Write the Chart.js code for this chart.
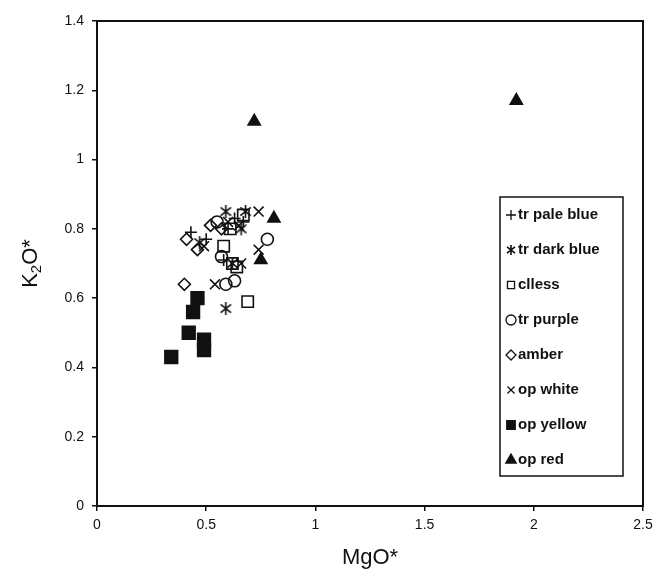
<!DOCTYPE html>
<html>
<head>
<meta charset="utf-8">
<script src="https://cdn.jsdelivr.net/npm/chart.js@4/dist/chart.umd.min.js"></script>
<style>
  html, body { margin: 0; padding: 0; background: #fff; }
  #wrap { width: 656px; height: 574px; position: relative; }
</style>
</head>
<body>
<div id="wrap"><canvas id="chart" width="656" height="574"></canvas></div>
<script>
// Data (MgO*, K2O*)
const paleBlueX = [0.43, 0.50, 0.60, 0.63, 0.67, 0.58];
const paleBlueY = [0.79, 0.77, 0.80, 0.83, 0.82, 0.71];
const darkBlueX = [0.59, 0.59, 0.68, 0.62, 0.47, 0.66];
const darkBlueY = [0.57, 0.85, 0.85, 0.70, 0.76, 0.80];
const cllessX = [0.69, 0.58, 0.62, 0.61, 0.67, 0.64];
const cllessY = [0.59, 0.75, 0.70, 0.80, 0.84, 0.69];
const purpleX = [0.78, 0.59, 0.63, 0.57, 0.55];
const purpleY = [0.77, 0.64, 0.65, 0.72, 0.82];
const amberX = [0.40, 0.41, 0.46, 0.52, 0.57];
const amberY = [0.64, 0.77, 0.74, 0.81, 0.80];
const whiteX = [0.54, 0.74, 0.74, 0.66, 0.60, 0.65, 0.49];
const whiteY = [0.64, 0.85, 0.74, 0.70, 0.82, 0.81, 0.75];
const yellowX = [0.34, 0.42, 0.44, 0.46, 0.49, 0.49];
const yellowY = [0.43, 0.50, 0.56, 0.60, 0.48, 0.45];
const redX = [0.72, 1.92, 0.81, 0.75];
const redY = [1.11, 1.17, 0.83, 0.71];

const xTicks = [0, 0.5, 1, 1.5, 2, 2.5];
const yTicks = [0, 0.2, 0.4, 0.6, 0.8, 1, 1.2, 1.4];

const INK = "#111";
const pts = (xs, ys) => xs.map((x, i) => ({ x, y: ys[i] }));

// six-armed asterisk (vertical bar + X), drawn once to a small canvas
function asterisk(size) {
  const c = document.createElement("canvas");
  c.width = size; c.height = size;
  const g = c.getContext("2d");
  const m = size / 2, r = size / 2 - 1;
  g.strokeStyle = INK;
  g.lineWidth = 1.6;
  g.beginPath();
  g.moveTo(m, m - r); g.lineTo(m, m + r);
  const dx = r * 0.8, dy = r * 0.62;
  g.moveTo(m - dx, m - dy); g.lineTo(m + dx, m + dy);
  g.moveTo(m - dx, m + dy); g.lineTo(m + dx, m - dy);
  g.stroke();
  return c;
}
const starBig = asterisk(15);
const starSmall = asterisk(12);

const series = [
  { label: "tr pale blue", data: pts(paleBlueX, paleBlueY), pointStyle: "cross", fill: false, r: 6 },
  { label: "tr dark blue", data: pts(darkBlueX, darkBlueY), pointStyle: starBig, legendStyle: starSmall, fill: false, r: 7 },
  { label: "clless", data: pts(cllessX, cllessY), pointStyle: "rect", fill: false, r: 8 },
  { label: "tr purple", data: pts(purpleX, purpleY), pointStyle: "circle", fill: false, r: 6 },
  { label: "amber", data: pts(amberX, amberY), pointStyle: "rectRot", fill: false, r: 6 },
  { label: "op white", data: pts(whiteX, whiteY), pointStyle: "crossRot", fill: false, r: 7 },
  { label: "op yellow", data: pts(yellowX, yellowY), pointStyle: "rect", fill: true, r: 9 },
  { label: "op red", data: pts(redX, redY), pointStyle: "triangle", fill: true, r: 7 },
];

// Frame, legend box and axis titles drawn by hand
const decor = {
  id: "decor",
  beforeDatasetsDraw(chart) {
    const { ctx, chartArea: a } = chart;
    ctx.save();
    ctx.strokeStyle = INK;
    ctx.lineWidth = 2;
    ctx.strokeRect(a.left, a.top, a.right - a.left, a.bottom - a.top);
    ctx.restore();
  },
  afterDraw(chart) {
    const { ctx, chartArea: a } = chart;
    ctx.save();
    // legend
    ctx.fillStyle = "#fff";
    ctx.fillRect(500, 197, 123, 279);
    ctx.strokeStyle = INK;
    ctx.lineWidth = 1.5;
    ctx.strokeRect(500, 197, 123, 279);
    ctx.font = "bold 15px 'Liberation Sans', Arial, sans-serif";
    ctx.textBaseline = "middle";
    series.forEach((s, i) => {
      const y = 215 + i * 35;
      ctx.strokeStyle = INK;
      ctx.fillStyle = s.fill ? INK : "rgba(0,0,0,0)";
      ctx.lineWidth = 1.3;
      Chart.helpers.drawPoint(ctx, { pointStyle: s.legendStyle || s.pointStyle, radius: s.fill ? 6 : 5, rotation: 0, borderWidth: 1.3 }, 511, y);
      ctx.fillStyle = INK;
      ctx.fillText(s.label, 518, y);
    });
    // x title
    ctx.font = "22px 'Liberation Sans', Arial, sans-serif";
    ctx.textAlign = "center";
    ctx.textBaseline = "middle";
    ctx.fillText("MgO*", (a.left + a.right) / 2, 558);
    // y title with subscript
    ctx.translate(31, (a.top + a.bottom) / 2);
    ctx.rotate(-Math.PI / 2);
    ctx.textAlign = "left";
    const big = "22px 'Liberation Sans', Arial, sans-serif";
    const small = "15px 'Liberation Sans', Arial, sans-serif";
    ctx.font = big;
    const wK = ctx.measureText("K").width;
    const wO = ctx.measureText("O*").width;
    ctx.font = small;
    const w2 = ctx.measureText("2").width;
    const x0 = -(wK + w2 + wO) / 2;
    ctx.font = big;
    ctx.fillText("K", x0, 0);
    ctx.font = small;
    ctx.fillText("2", x0 + wK, 6);
    ctx.font = big;
    ctx.fillText("O*", x0 + wK + w2, 0);
    ctx.restore();
  },
};

const tickFont = { family: "'Liberation Sans', Arial, sans-serif", size: 14 };
const plain = (v) => String(Math.round(v * 10) / 10);

new Chart(document.getElementById("chart"), {
  type: "scatter",
  data: {
    datasets: series.map((s) => ({
      label: s.label,
      data: s.data,
      pointStyle: s.pointStyle,
      pointRadius: s.r,
      pointHoverRadius: s.r,
      borderColor: INK,
      backgroundColor: s.fill ? INK : "rgba(0,0,0,0)",
      pointBorderWidth: 1.6,
    })),
  },
  options: {
    responsive: false,
    animation: false,
    layout: { padding: { left: 0, right: 13, top: 21, bottom: 0 } },
    plugins: { legend: { display: false }, tooltip: { enabled: false } },
    scales: {
      x: {
        type: "linear",
        min: 0,
        max: 2.5,
        afterBuildTicks: (scale) => { scale.ticks = xTicks.map((v) => ({ value: v })); },
        afterFit: (scale) => { scale.height = 68; scale.paddingLeft = 0; scale.paddingRight = 0; },
        grid: { drawOnChartArea: false, drawTicks: true, tickLength: 5, color: INK, lineWidth: 1.5 },
        border: { color: INK, width: 2 },
        ticks: { color: INK, font: tickFont, padding: 6, maxRotation: 0, callback: plain },
      },
      y: {
        type: "linear",
        min: 0,
        max: 1.4,
        afterBuildTicks: (scale) => { scale.ticks = yTicks.map((v) => ({ value: v })); },
        afterFit: (scale) => { scale.width = 97; scale.paddingTop = 0; scale.paddingBottom = 0; },
        grid: { drawOnChartArea: false, drawTicks: true, tickLength: 5, color: INK, lineWidth: 1.5 },
        border: { color: INK, width: 2 },
        ticks: { color: INK, font: tickFont, padding: 8, callback: plain },
      },
    },
  },
  plugins: [decor],
});
</script>
</body>
</html>
